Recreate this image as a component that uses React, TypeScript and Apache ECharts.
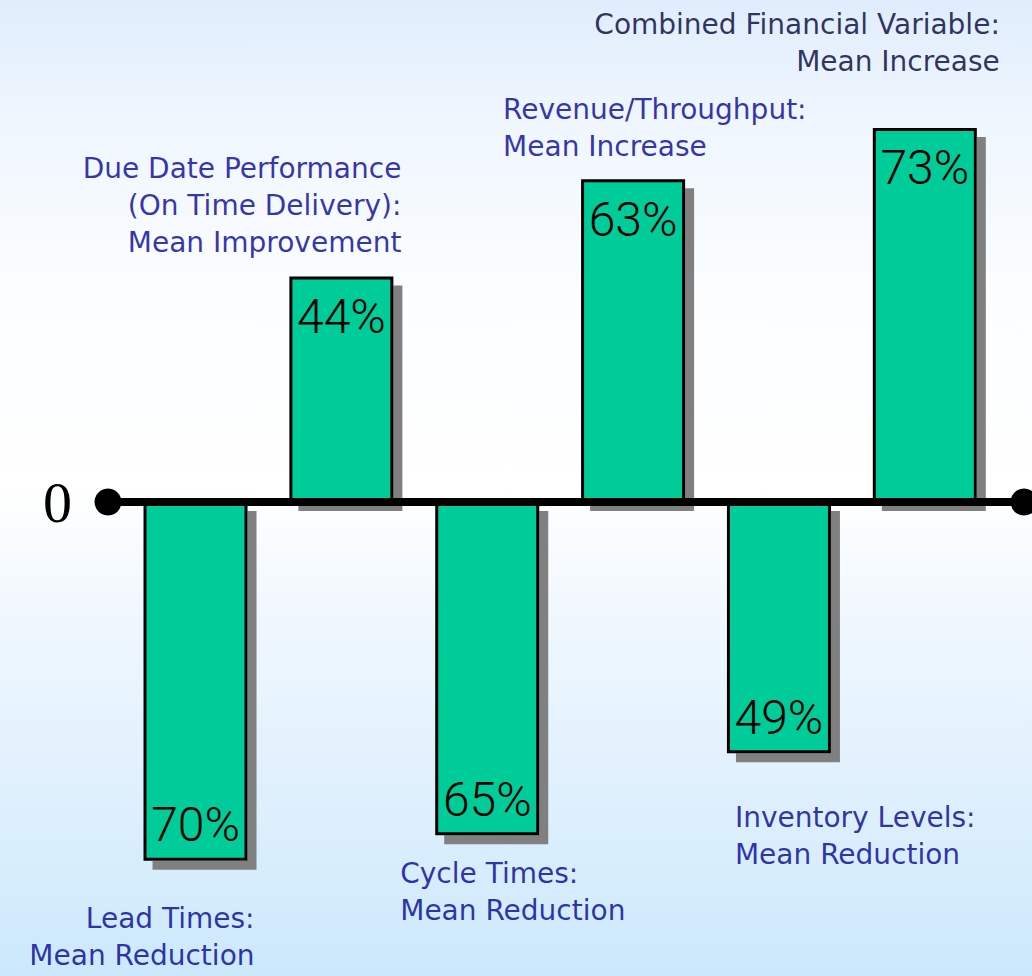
import React, { useEffect, useRef } from "react";
import * as echarts from "echarts";

// ---- data ----
const categories = [
  "Lead Times",
  "Due Date Performance (On Time Delivery)",
  "Cycle Times",
  "Revenue/Throughput",
  "Inventory Levels",
  "Combined Financial Variable",
];
const annotationLines = [
  ["Lead Times:", "Mean Reduction"],
  ["Due Date Performance", "(On Time Delivery):", "Mean Improvement"],
  ["Cycle Times:", "Mean Reduction"],
  ["Revenue/Throughput:", "Mean Increase"],
  ["Inventory Levels:", "Mean Reduction"],
  ["Combined Financial Variable:", "Mean Increase"],
];
// signed: reductions drawn below zero, increases above
const percentChange = [-70, 44, -65, 63, -49, 73];
const yTickLabels = ["0"];

// ---- layout of the annotation texts (relative to the bar end) ----
const annotationLayout = [
  { align: "right", dx: 59, dy: 39 },
  { align: "right", dx: 60, dy: -16 },
  { align: "left", dx: -87, dy: 20 },
  { align: "left", dx: -130, dy: -14 },
  { align: "left", dx: -44, dy: 46 },
  { align: "right", dx: 75, dy: -48 },
];

export default function App() {
  const ref = useRef<HTMLDivElement>(null);
  useEffect(() => {
    if (!ref.current) return;
    const chart = echarts.init(ref.current, null, { renderer: "svg" });
    const option: any = {
      animation: false,
      backgroundColor: {
        type: "linear",
        x: 0,
        y: 0,
        x2: 0,
        y2: 1,
        colorStops: [
          { offset: 0, color: "#dfedfc" },
          { offset: 0.12, color: "#eff6fe" },
          { offset: 0.3, color: "#fbfdff" },
          { offset: 0.5, color: "#ffffff" },
          { offset: 0.62, color: "#f1f8fe" },
          { offset: 0.78, color: "#e2f1fd" },
          { offset: 0.92, color: "#d4ecfc" },
          { offset: 1, color: "#cbe8fc" },
        ],
      },
      grid: { left: 108, right: 8, top: 92, bottom: 64 },
      xAxis: {
        type: "value",
        min: -0.6,
        max: 5.68,
        z: 5,
        axisLine: {
          show: true,
          onZero: true,
          symbol: ["circle", "circle"],
          symbolSize: [27, 27],
          lineStyle: { color: "#000", width: 8 },
        },
        axisTick: { show: false },
        axisLabel: { show: false },
        splitLine: { show: false },
      },
      yAxis: {
        type: "value",
        min: -80,
        max: 80,
        interval: 80,
        axisLine: { show: false },
        axisTick: { show: false },
        splitLine: { show: false },
        axisLabel: {
          margin: 36,
          fontFamily: "Liberation Serif",
          fontSize: 58,
          color: "#000",
          formatter: (v: number) => (v === 0 ? yTickLabels[0] : ""),
        },
      },
      series: [
        {
          type: "bar",
          name: "Mean change",
          barWidth: 104,
          z: 2,
          data: percentChange.map((v, i) => ({
            value: [i, v],
            name: categories[i],
            label: {
              position: v < 0 ? "insideBottom" : "insideTop",
              distance: v < 0 ? 12 : 16,
            },
          })),
          itemStyle: {
            color: "#00cc99",
            borderColor: "#000",
            borderWidth: 3,
            shadowColor: "#808080",
            shadowBlur: 0,
            shadowOffsetX: 9,
            shadowOffsetY: 9,
          },
          label: {
            show: true,
            formatter: (p: any) => Math.abs(p.value[1]) + "%",
            fontFamily: "Roboto, 'Liberation Sans', sans-serif",
            fontWeight: 300,
            fontSize: 48,
            color: "#000",
          },
        },
        {
          type: "scatter",
          name: "annotations",
          symbolSize: 1,
          silent: true,
          z: 6,
          itemStyle: { color: "rgba(0,0,0,0)" },
          data: percentChange.map((v, i) => ({
            value: [i, v],
            label: {
              align: annotationLayout[i].align,
              verticalAlign: v < 0 ? "top" : "bottom",
              offset: [annotationLayout[i].dx, annotationLayout[i].dy],
              color: i === 5 ? "#000038" : "#000096",
            },
          })),
          label: {
            show: true,
            position: "inside",
            formatter: (p: any) => annotationLines[p.dataIndex].join("\n"),
            fontFamily: "'DejaVu Sans', sans-serif",
            fontSize: 28,
            lineHeight: 37,
          },
        },
      ],
    };
    chart.setOption(option);
    return () => chart.dispose();
  }, []);
  return (
    <div
      ref={ref}
      style={{ position: "fixed", left: 0, top: 0, width: 1032, height: 976 }}
    />
  );
}
